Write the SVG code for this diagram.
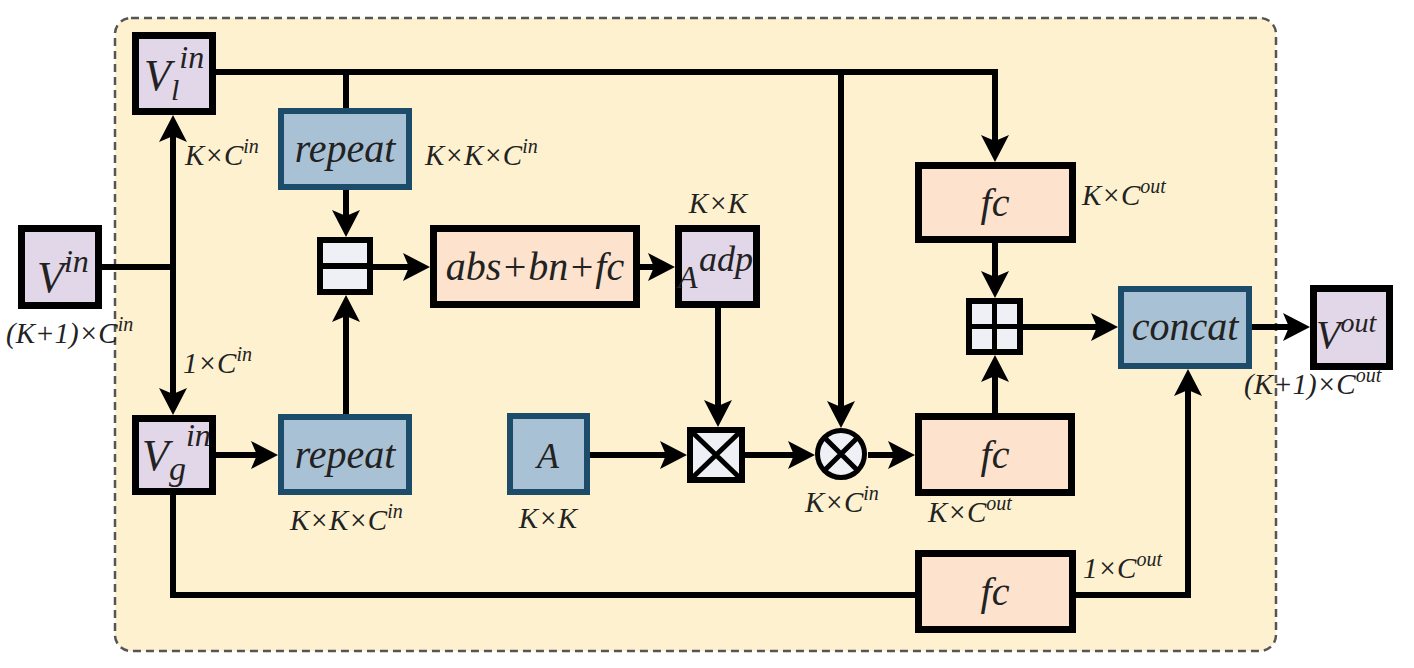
<svg xmlns="http://www.w3.org/2000/svg" width="1414" height="668" viewBox="0 0 1414 668">
<defs>
<marker id="ah" markerUnits="userSpaceOnUse" viewBox="-16 -16 30 32" markerWidth="30" markerHeight="32" refX="0" refY="0" orient="auto">
<path d="M12,0 L-15,-14 L-9,0 L-15,14 Z" fill="#000"/>
</marker>
</defs>
<style>
.t{font-family:"Liberation Serif",serif;font-style:italic;fill:#222;}
.big{font-size:40px;}
.lab{font-size:29px;}
.v{fill:#e2d6e9;stroke:#000;stroke-width:7;}
.p{fill:#fde2cd;stroke:#000;stroke-width:7;}
.b{fill:#a9c1d4;stroke:#1d4c6b;stroke-width:6;}
.op{fill:#eef0f6;stroke:#000;stroke-width:6;}
.c{fill:none;stroke:#000;stroke-width:6;}
.a{marker-end:url(#ah);}
</style>
<rect x="115" y="18" width="1161" height="633" rx="16" fill="#fef1cf" stroke="#555" stroke-width="2.5" stroke-dasharray="8 5"/>

<g id="connectors">
<path class="c" d="M102,267 H173"/>
<path class="c a" d="M173,267 V127"/>
<path class="c a" d="M173,267 V403"/>
<path class="c a" d="M216,72 H995 V150"/>
<path class="c" d="M346,72 V111"/>
<path class="c a" d="M841,72 V416"/>
<path class="c a" d="M346,190 V225"/>
<path class="c a" d="M346,414 V307"/>
<path class="c a" d="M373,267 H418"/>
<path class="c a" d="M640,267 H663"/>
<path class="c a" d="M718,308 V415"/>
<path class="c a" d="M590,455 H675"/>
<path class="c a" d="M745,455 H803"/>
<path class="c a" d="M868,455 H903"/>
<path class="c a" d="M995,243 V286"/>
<path class="c a" d="M995,413 V367"/>
<path class="c a" d="M1023,327 H1106"/>
<path class="c a" d="M1252,327 H1298"/>
<path class="c a" d="M216,455 H266"/>
<path class="c" d="M173,495 V595 H918"/>
<path class="c a" d="M1076,595 H1188 V381"/>
</g>

<g id="vin">
<rect class="v" x="21.5" y="228.5" width="77" height="77"/>
<text class="t" x="37" y="292" font-size="44">V<tspan font-size="32" dy="-20">in</tspan></text>
<text class="t lab" x="6" y="343">(K+1)×C<tspan font-size="20" dy="-12">in</tspan></text>
</g>

<g id="vl">
<rect class="v" x="135.5" y="35.5" width="77" height="76"/>
<text class="t" x="144" y="90" font-size="44">V<tspan font-size="30" dy="10">l</tspan><tspan font-size="32" dy="-32">in</tspan></text>
<text class="t lab" x="185" y="165">K×C<tspan font-size="20" dy="-12">in</tspan></text>
</g>

<g id="vg">
<rect class="v" x="135.5" y="418.5" width="77" height="73"/>
<text class="t" x="142" y="470" font-size="44">V<tspan font-size="34" dy="10">g</tspan><tspan font-size="32" dy="-34">in</tspan></text>
<text class="t lab" x="183" y="373">1×C<tspan font-size="20" dy="-12">in</tspan></text>
</g>

<g id="repeat_top">
<rect class="b" x="281" y="111" width="128" height="76"/>
<text class="t big" x="345" y="162" text-anchor="middle">repeat</text>
<text class="t lab" x="425" y="165">K×K×C<tspan font-size="20" dy="-12">in</tspan></text>
</g>

<g id="repeat_bottom">
<rect class="b" x="281" y="417" width="128" height="75"/>
<text class="t big" x="345" y="468" text-anchor="middle">repeat</text>
<text class="t lab" x="290" y="530">K×K×C<tspan font-size="20" dy="-12">in</tspan></text>
</g>

<g id="subtract">
<rect class="op" x="320" y="240" width="50" height="52"/>
<line x1="320" y1="266" x2="370" y2="266" stroke="#000" stroke-width="6"/>
</g>

<g id="absbnfc">
<rect class="p" x="433.5" y="228.5" width="203" height="76"/>
<text class="t big" x="535" y="280" text-anchor="middle">abs+bn+fc</text>
</g>

<g id="aadp">
<rect class="v" x="678.5" y="228.5" width="78" height="76"/>
<text class="t" x="678" y="288" font-size="32">A</text>
<text class="t" x="699" y="271" font-size="36">adp</text>
<text class="t lab" x="718" y="213" text-anchor="middle">K×K</text>
</g>

<g id="mul_box">
<rect class="op" x="690" y="430" width="52" height="50"/>
<path d="M690,430 L742,480 M742,430 L690,480" stroke="#000" stroke-width="5" fill="none"/>
</g>

<g id="a_static">
<rect class="b" x="510" y="416" width="77" height="76"/>
<text class="t" x="548" y="468" font-size="36" text-anchor="middle">A</text>
<text class="t lab" x="548" y="528" text-anchor="middle">K×K</text>
</g>

<g id="otimes">
<circle cx="841" cy="454" r="23.5" fill="#eef0f6" stroke="#000" stroke-width="5"/>
<path d="M824.4,437.4 L857.6,470.6 M857.6,437.4 L824.4,470.6" stroke="#000" stroke-width="5" fill="none"/>
<text class="t lab" x="805" y="512">K×C<tspan font-size="20" dy="-12">in</tspan></text>
</g>

<g id="fc_top">
<rect class="p" x="918.5" y="165.5" width="154" height="74"/>
<text class="t big" x="995" y="216" text-anchor="middle">fc</text>
<text class="t lab" x="1082" y="205">K×C<tspan font-size="20" dy="-12">out</tspan></text>
</g>

<g id="plus_box">
<rect class="op" x="969" y="301" width="51" height="51"/>
<path d="M994.5,301 V352 M969,326.5 H1020" stroke="#000" stroke-width="5" fill="none"/>
</g>

<g id="fc_mid">
<rect class="p" x="918.5" y="416.5" width="153" height="76"/>
<text class="t big" x="995" y="468" text-anchor="middle">fc</text>
<text class="t lab" x="928" y="522">K×C<tspan font-size="20" dy="-12">out</tspan></text>
</g>

<g id="fc_bottom">
<rect class="p" x="918.5" y="553.5" width="154" height="76"/>
<text class="t big" x="995" y="605" text-anchor="middle">fc</text>
<text class="t lab" x="1083" y="578">1×C<tspan font-size="20" dy="-12">out</tspan></text>
</g>

<g id="concat">
<rect class="b" x="1121" y="289" width="128" height="77"/>
<text class="t big" x="1185" y="340" text-anchor="middle">concat</text>
</g>

<g id="vout">
<rect class="v" x="1313.5" y="288.5" width="76" height="78"/>
<text class="t" x="1316" y="348" font-size="40">V<tspan font-size="28" dy="-16">out</tspan></text>
<text class="t lab" x="1244" y="394">(K+1)×C<tspan font-size="20" dy="-12">out</tspan></text>
</g>
</svg>
